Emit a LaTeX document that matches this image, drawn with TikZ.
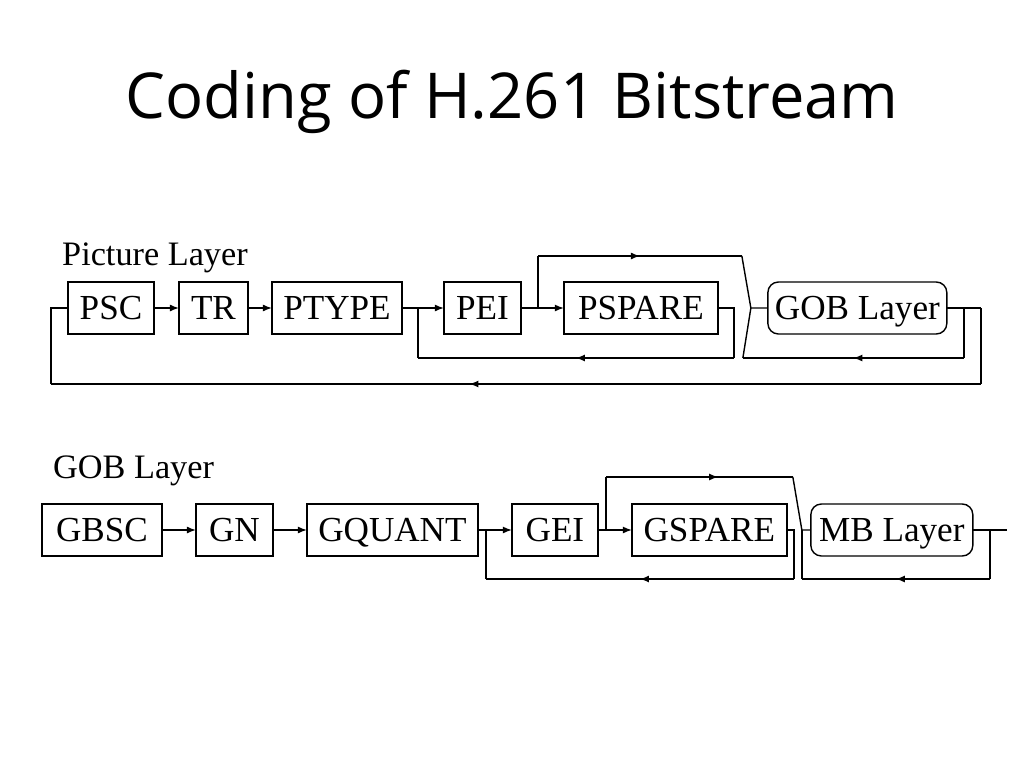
\documentclass[tikz,border=0pt]{standalone}
\usepackage{fontspec}
\setmainfont{Liberation Serif}
\newfontfamily\titlefont{Open Sans}
\usetikzlibrary{arrows.meta, positioning, calc, decorations.markings}

\begin{document}
\begin{tikzpicture}[x=0.02cm, y=-0.02cm,
    blk/.style={draw, line width=0.8pt, minimum height=1.04cm, minimum width=#1,
                inner xsep=2pt, outer sep=0pt, text height=13.2pt, text depth=0pt,
                font=\fontsize{20}{23}\selectfont},
    blk/.default=1cm,
    layer/.style={blk=#1, rounded corners=6pt},
    wire/.style={line width=0.8pt},
    arr/.style={wire, -{Latex[length=1.8mm, width=1.4mm]}},
    midarr/.style={wire, postaction={decorate},
                   decoration={markings, mark=at position #1 with {\arrow{Latex[length=1.8mm, width=1.4mm]}}}},
    lbl/.style={anchor=west, font=\fontsize{19.5}{23}\selectfont}]
  \useasboundingbox (0,0) rectangle (1024,768);

  \node[font=\titlefont\fontsize{36}{40}\selectfont] (title) at (512,102) {Coding of H.261 Bitstream};

  % picture layer
  \node[lbl] (piclbl) at (56,258) {Picture Layer};
  \node[blk=1.72cm, anchor=west] (psc) at (68,308) {PSC};
  \node[blk=1.38cm, right=5mm of psc] (tr) {TR};
  \node[blk=2.6cm, right=4.8mm of tr] (ptype) {PTYPE};
  \node[blk=1.54cm, right=8.4mm of ptype] (pei) {PEI};
  \node[blk=3.08cm, right=8.6mm of pei] (pspare) {PSPARE};
  \node[layer=3.58cm, right=10mm of pspare] (gob) {GOB Layer};

  \coordinate (j1) at ($(ptype.east)!0.38!(pei.west)$);
  \coordinate (j2) at ($(pei.east)!0.4!(pspare.west)$);
  \coordinate (m1) at ($(gob.west)+(-17,0)$);
  \coordinate (s1) at ($(m1)+(-9,-52)$);
  \coordinate (r1) at ($(m1)+(-8,50)$);
  \coordinate (b1) at ($(pspare.east)+(16,50)$);
  \coordinate (c2) at ($(gob.east)+(17,0)$);
  \coordinate (c3) at ($(gob.east)+(34,0)$);
  \coordinate (o1) at ($(c3)+(0,76)$);
  \coordinate (o2) at ($(psc.west)+(-17,0)$);

  \draw[arr] (psc) -- (tr);
  \draw[arr] (tr) -- (ptype);
  \draw[arr] (ptype) -- (pei);
  \draw[arr] (pei) -- (pspare);
  \draw[wire] (j2) -- (j2 |- s1);
  \draw[midarr=0.5] (j2 |- s1) -- (s1);
  \draw[wire] (s1) -- (m1) -- (gob.west);
  \draw[wire] (pspare.east) -| (b1);
  \draw[midarr=0.5] (b1) -- (b1 -| j1);
  \draw[wire] (b1 -| j1) -- (j1);
  \draw[wire] (gob.east) -- (c3);
  \draw[wire] (c2) -- (c2 |- r1);
  \draw[midarr=0.5] (c2 |- r1) -- (r1);
  \draw[wire] (r1) -- (m1);
  \draw[wire] (c3) -- (o1);
  \draw[midarr=0.55] (o1) -- (o1 -| o2);
  \draw[wire] (o1 -| o2) -- (o2) -- (psc.west);

  % gob layer
  \node[lbl] (goblbl) at (47,471) {GOB Layer};
  \node[blk=2.4cm, anchor=west] (gbsc) at (42,530) {GBSC};
  \node[blk=1.54cm, right=6.8mm of gbsc] (gn) {GN};
  \node[blk=3.42cm, right=6.8mm of gn] (gquant) {GQUANT};
  \node[blk=1.72cm, right=6.8mm of gquant] (gei) {GEI};
  \node[blk=3.1cm, right=6.8mm of gei] (gspare) {GSPARE};
  \node[layer=3.24cm, right=4.8mm of gspare] (mb) {MB Layer};

  \coordinate (j3) at ($(gquant.east)!0.24!(gei.west)$);
  \coordinate (j4) at ($(gei.east)!0.24!(gspare.west)$);
  \coordinate (m2) at ($(mb.west)+(-9,0)$);
  \coordinate (s2) at ($(m2)+(-9,-53)$);
  \coordinate (b3) at ($(gspare.east)+(7,49)$);
  \coordinate (c4) at ($(mb.east)+(17,0)$);
  \coordinate (out) at ($(mb.east)+(34,0)$);

  \draw[arr] (gbsc) -- (gn);
  \draw[arr] (gn) -- (gquant);
  \draw[arr] (gquant) -- (gei);
  \draw[arr] (gei) -- (gspare);
  \draw[wire] (j4) -- (j4 |- s2);
  \draw[midarr=0.6] (j4 |- s2) -- (s2);
  \draw[wire] (s2) -- (m2) -- (mb.west);
  \draw[wire] (gspare.east) -| (b3);
  \draw[midarr=0.5] (b3) -- (b3 -| j3);
  \draw[wire] (b3 -| j3) -- (j3);
  \draw[wire] (mb.east) -- (out);
  \draw[wire] (c4) -- (c4 |- b3);
  \draw[midarr=0.5] (c4 |- b3) -- (m2 |- b3);
  \draw[wire] (m2 |- b3) -- (m2);
\end{tikzpicture}
\end{document}
